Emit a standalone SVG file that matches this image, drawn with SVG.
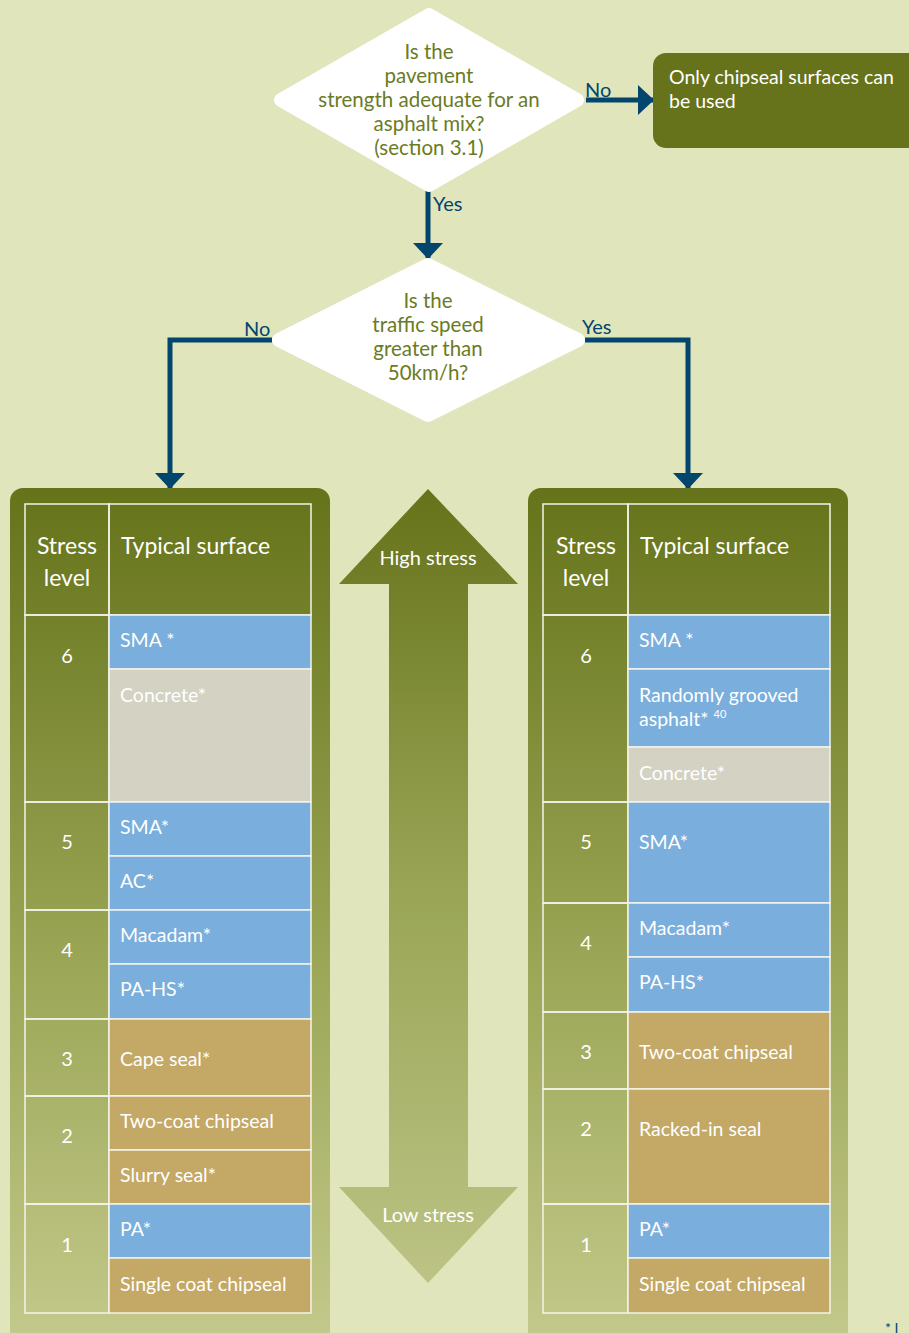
<svg xmlns="http://www.w3.org/2000/svg" width="909" height="1333" viewBox="0 0 909 1333">
<defs>
<linearGradient id="panelGrad" x1="0" y1="0" x2="0" y2="1">
<stop offset="0" stop-color="#65731a"/>
<stop offset="0.55" stop-color="#9ba656"/>
<stop offset="1" stop-color="#c4ca8c"/>
</linearGradient>
<linearGradient id="arrowGrad" gradientUnits="userSpaceOnUse" x1="0" y1="489" x2="0" y2="1283">
<stop offset="0" stop-color="#66731a"/>
<stop offset="0.5" stop-color="#99a555"/>
<stop offset="1" stop-color="#bcc385"/>
</linearGradient>
<marker id="arrow" viewBox="0 0 16 30" refX="15" refY="15" markerWidth="3.2" markerHeight="6" markerUnits="strokeWidth" orient="auto">
<path d="M0,0 L16,15 L0,30 Z" fill="#02466e"/>
</marker>
<style>
text{font-family:Lato,"Liberation Sans",sans-serif}
.q{fill:#6b7b1f;font-size:20.5px;text-anchor:middle}
.lbl{fill:#02466e;font-size:20px}
.w{fill:#ffffff;font-size:19.5px}
.hd{fill:#ffffff;font-size:23px}
.num{fill:#ffffff;font-size:20px;text-anchor:middle}
.con{fill:none;stroke:#02466e;stroke-width:5}
.blue{fill:#7aaedc;stroke:#f4f4ea;stroke-width:1.5}
.grey{fill:#d3d2c3;stroke:#f4f4ea;stroke-width:1.5}
.tan{fill:#c4a866;stroke:#f4f4ea;stroke-width:1.5}
.cell{fill:none;stroke:#f4f4ea;stroke-width:1.5}
.dia{fill:#ffffff;stroke:#ffffff;stroke-width:14;stroke-linejoin:round}
</style>
</defs>
<rect x="0" y="0" width="909" height="1333" fill="#e0e5bb"/>

<g id="connectors">
<line class="con" x1="586" y1="100" x2="653" y2="100" marker-end="url(#arrow)"/>
<line class="con" x1="428" y1="190" x2="428" y2="258" marker-end="url(#arrow)"/>
<polyline class="con" points="272,340 170,340 170,488" marker-end="url(#arrow)"/>
<polyline class="con" points="585,340 688,340 688,488" marker-end="url(#arrow)"/>
<text class="lbl" x="585" y="97">No</text>
<text class="lbl" x="433" y="211">Yes</text>
<text class="lbl" x="244" y="336">No</text>
<text class="lbl" x="582" y="334">Yes</text>
</g>

<g id="q1">
<polygon class="dia" points="281,100 429,15 577,100 429,185"/>
<text class="q" x="429" y="59">Is the</text>
<text class="q" x="429" y="83">pavement</text>
<text class="q" x="429" y="107">strength adequate for an</text>
<text class="q" x="429" y="131">asphalt mix?</text>
<text class="q" x="429" y="155">(section 3.1)</text>
</g>

<g id="chipseal-only">
<rect x="653" y="53" width="270" height="95" rx="13" fill="#66731a"/>
<text class="w" x="669" y="84">Only chipseal surfaces can</text>
<text class="w" x="669" y="108">be used</text>
</g>

<g id="q2">
<polygon class="dia" points="279,340 428,265 578,340 428,415"/>
<text class="q" x="428" y="308">Is the</text>
<text class="q" x="428" y="332">traffic speed</text>
<text class="q" x="428" y="356">greater than</text>
<text class="q" x="428" y="380">50km/h?</text>
</g>

<g id="stress-arrow">
<path d="M428,489 L518,584 L468,584 L468,1187 L518,1187 L428,1283 L339,1187 L389,1187 L389,584 L339,584 Z" fill="url(#arrowGrad)"/>
<text x="428" y="565" fill="#ffffff" font-size="20" text-anchor="middle">High stress</text>
<text x="428" y="1222" fill="#ffffff" font-size="20" text-anchor="middle">Low stress</text>
</g>

<g id="left-table">
<rect x="10" y="488" width="320" height="860" rx="13" fill="url(#panelGrad)"/>
<rect class="cell" x="25" y="504" width="84" height="111"/>
<rect class="cell" x="109" y="504" width="202" height="111"/>
<text class="hd" x="67" y="554" text-anchor="middle">Stress</text>
<text class="hd" x="67" y="586" text-anchor="middle">level</text>
<text class="hd" x="121" y="554">Typical surface</text>
<rect class="cell" x="25" y="615" width="84" height="187"/>
<rect class="cell" x="25" y="802" width="84" height="108"/>
<rect class="cell" x="25" y="910" width="84" height="109"/>
<rect class="cell" x="25" y="1019" width="84" height="77"/>
<rect class="cell" x="25" y="1096" width="84" height="108"/>
<rect class="cell" x="25" y="1204" width="84" height="109"/>
<text class="num" x="67" y="663">6</text>
<text class="num" x="67" y="849">5</text>
<text class="num" x="67" y="957">4</text>
<text class="num" x="67" y="1066">3</text>
<text class="num" x="67" y="1143">2</text>
<text class="num" x="67" y="1252">1</text>
<rect class="blue" x="109" y="615" width="202" height="54"/>
<rect class="grey" x="109" y="669" width="202" height="133"/>
<rect class="blue" x="109" y="802" width="202" height="54"/>
<rect class="blue" x="109" y="856" width="202" height="54"/>
<rect class="blue" x="109" y="910" width="202" height="54"/>
<rect class="blue" x="109" y="964" width="202" height="55"/>
<rect class="tan" x="109" y="1019" width="202" height="77"/>
<rect class="tan" x="109" y="1096" width="202" height="54"/>
<rect class="tan" x="109" y="1150" width="202" height="54"/>
<rect class="blue" x="109" y="1204" width="202" height="54"/>
<rect class="tan" x="109" y="1258" width="202" height="55"/>
<text class="w" x="120" y="647">SMA *</text>
<text class="w" x="120" y="702">Concrete*</text>
<text class="w" x="120" y="834">SMA*</text>
<text class="w" x="120" y="888">AC*</text>
<text class="w" x="120" y="942">Macadam*</text>
<text class="w" x="120" y="996">PA-HS*</text>
<text class="w" x="120" y="1066">Cape seal*</text>
<text class="w" x="120" y="1128">Two-coat chipseal</text>
<text class="w" x="120" y="1182">Slurry seal*</text>
<text class="w" x="120" y="1236">PA*</text>
<text class="w" x="120" y="1291">Single coat chipseal</text>
</g>

<g id="right-table">
<rect x="528" y="488" width="320" height="860" rx="13" fill="url(#panelGrad)"/>
<rect class="cell" x="543" y="504" width="85" height="111"/>
<rect class="cell" x="628" y="504" width="202" height="111"/>
<text class="hd" x="586" y="554" text-anchor="middle">Stress</text>
<text class="hd" x="586" y="586" text-anchor="middle">level</text>
<text class="hd" x="640" y="554">Typical surface</text>
<rect class="cell" x="543" y="615" width="85" height="187"/>
<rect class="cell" x="543" y="802" width="85" height="101"/>
<rect class="cell" x="543" y="903" width="85" height="109"/>
<rect class="cell" x="543" y="1012" width="85" height="77"/>
<rect class="cell" x="543" y="1089" width="85" height="115"/>
<rect class="cell" x="543" y="1204" width="85" height="109"/>
<text class="num" x="586" y="663">6</text>
<text class="num" x="586" y="849">5</text>
<text class="num" x="586" y="950">4</text>
<text class="num" x="586" y="1059">3</text>
<text class="num" x="586" y="1136">2</text>
<text class="num" x="586" y="1252">1</text>
<rect class="blue" x="628" y="615" width="202" height="54"/>
<rect class="blue" x="628" y="669" width="202" height="78"/>
<rect class="grey" x="628" y="747" width="202" height="55"/>
<rect class="blue" x="628" y="802" width="202" height="101"/>
<rect class="blue" x="628" y="903" width="202" height="54"/>
<rect class="blue" x="628" y="957" width="202" height="55"/>
<rect class="tan" x="628" y="1012" width="202" height="77"/>
<rect class="tan" x="628" y="1089" width="202" height="115"/>
<rect class="blue" x="628" y="1204" width="202" height="54"/>
<rect class="tan" x="628" y="1258" width="202" height="55"/>
<text class="w" x="639" y="647">SMA *</text>
<text class="w" x="639" y="702">Randomly grooved</text>
<text class="w" x="639" y="726">asphalt* <tspan font-size="11" dy="-8">40</tspan></text>
<text class="w" x="639" y="780">Concrete*</text>
<text class="w" x="639" y="849">SMA*</text>
<text class="w" x="639" y="935">Macadam*</text>
<text class="w" x="639" y="989">PA-HS*</text>
<text class="w" x="639" y="1059">Two-coat chipseal</text>
<text class="w" x="639" y="1136">Racked-in seal</text>
<text class="w" x="639" y="1236">PA*</text>
<text class="w" x="639" y="1291">Single coat chipseal</text>
</g>

<g id="footnote">
<text x="885" y="1333" fill="#02466e" font-size="14">* I</text>
</g>
</svg>
